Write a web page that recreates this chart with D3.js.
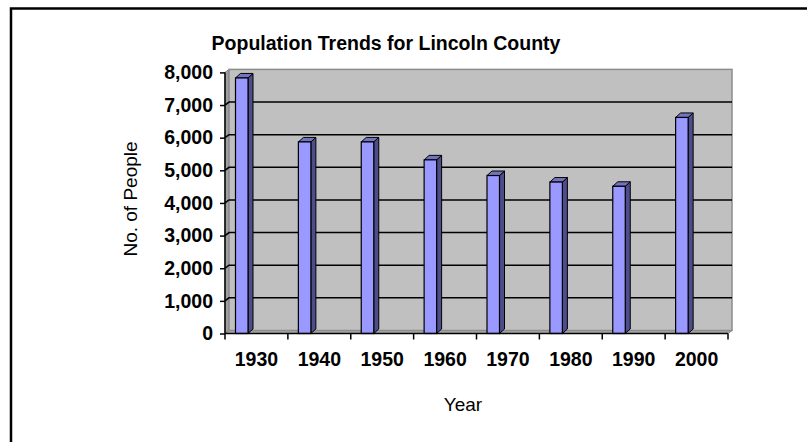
<!DOCTYPE html>
<html>
<head>
<meta charset="utf-8">
<script src="https://cdn.jsdelivr.net/npm/d3@7"></script>
<style>
  html, body { margin: 0; padding: 0; background: #fff; }
  svg { display: block; font-family: "Liberation Sans", Arial, sans-serif; }
</style>
</head>
<body>
<svg id="chart" width="807" height="442"></svg>
<script>
// Population of Lincoln County by census year
const years = ["1930", "1940", "1950", "1960", "1970", "1980", "1990", "2000"];
const population = [7830, 5870, 5870, 5320, 4840, 4640, 4510, 6620];
const yTicks = [0, 1000, 2000, 3000, 4000, 5000, 6000, 7000, 8000];

const title = "Population Trends for Lincoln County";
const xTitle = "Year";
const yTitle = "No. of People";

const svg = d3.select("#chart");

// Front plane of the plot area
const plotLeft = 225, plotRight = 728, plotTop = 72.4, plotBottom = 333.5;
// Depth offsets for the back wall and for the columns
const wallDx = 4, wallDy = -3;
const barDx = 5, barDy = -4.5;

const x = d3.scaleBand().domain(years).range([plotLeft, plotRight]).paddingInner(0).paddingOuter(0);
const y = d3.scaleLinear().domain([0, 8000]).range([plotBottom, plotTop]);

// Outer frame
svg.append("rect")
  .attr("x", 11).attr("y", 8.5)
  .attr("width", 830).attr("height", 460)
  .attr("fill", "none").attr("stroke", "#000").attr("stroke-width", 2.5);

// Title
svg.append("text")
  .attr("x", 386).attr("y", 50)
  .attr("text-anchor", "middle")
  .attr("font-size", 19.5).attr("font-weight", "bold")
  .text(title);

// Left side wall
svg.append("polygon")
  .attr("points", [[plotLeft, y(8000)], [plotLeft + wallDx, y(8000) + wallDy], [plotLeft + wallDx, plotBottom + wallDy], [plotLeft, plotBottom]].join(" "))
  .attr("fill", "#a0a0a0").attr("stroke", "#808080").attr("stroke-width", 1);

// Floor
svg.append("polygon")
  .attr("points", [[plotLeft, plotBottom], [plotLeft + wallDx, plotBottom + wallDy], [plotRight + wallDx, plotBottom + wallDy], [plotRight, plotBottom]].join(" "))
  .attr("fill", "#a8a8a8").attr("stroke", "#808080").attr("stroke-width", 1);

// Back wall
svg.append("rect")
  .attr("x", plotLeft + wallDx).attr("y", y(8000) + wallDy)
  .attr("width", plotRight - plotLeft).attr("height", plotBottom - y(8000))
  .attr("fill", "#c0c0c0").attr("stroke", "#8c8c8c").attr("stroke-width", 1.5);

// Gridlines on the back wall, continuing across the side wall
const grid = svg.append("g").attr("stroke", "#000").attr("stroke-width", 1.5).attr("fill", "none");
yTicks.filter(v => v > 0 && v < 8000).forEach(v => {
  grid.append("polyline")
    .attr("points", [[plotLeft, y(v)], [plotLeft + wallDx, y(v) + wallDy], [plotRight + wallDx, y(v) + wallDy]].join(" "));
});

// Columns
const barOffset = 10.5, barWidth = 12.5;
const bars = svg.append("g").selectAll("g").data(years).join("g");
bars.each(function(yr, i) {
  const g = d3.select(this);
  const x0 = x(yr) + barOffset, x1 = x0 + barWidth;
  const yt = y(population[i]), yb = y(0);
  // side face
  g.append("polygon")
    .attr("points", [[x1, yt], [x1 + barDx, yt + barDy], [x1 + barDx, yb + barDy], [x1, yb]].join(" "))
    .attr("fill", "#4d4d8c").attr("stroke", "#000").attr("stroke-width", 1).attr("stroke-linejoin", "round");
  // top face
  g.append("polygon")
    .attr("points", [[x0, yt], [x0 + barDx, yt + barDy], [x1 + barDx, yt + barDy], [x1, yt]].join(" "))
    .attr("fill", "#7373bf").attr("stroke", "#000").attr("stroke-width", 1).attr("stroke-linejoin", "round");
  // front face
  g.append("rect")
    .attr("x", x0).attr("y", yt).attr("width", barWidth).attr("height", yb - yt)
    .attr("fill", "#9999ff").attr("stroke", "#000").attr("stroke-width", 1.2);
});

// Value axis
const yAxis = svg.append("g")
  .attr("transform", `translate(${plotLeft},0)`)
  .call(d3.axisLeft(y).tickValues(yTicks).tickFormat(d3.format(",")).tickSize(5).tickPadding(7));
yAxis.select(".domain").attr("stroke-width", 1.5).attr("d", `M-0,${plotTop}V${plotBottom}`);
yAxis.selectAll(".tick line").attr("stroke-width", 1.5);
yAxis.selectAll(".tick text")
  .attr("font-size", 19.5).attr("font-weight", "bold").attr("fill", "#000")
  .attr("font-family", "Liberation Sans, Arial, sans-serif");

// Category axis: labels centered, tick marks at band boundaries
const xAxis = svg.append("g")
  .attr("transform", `translate(0,${plotBottom})`)
  .call(d3.axisBottom(x).tickSize(0).tickPadding(19));
xAxis.select(".domain").attr("stroke-width", 1.5).attr("d", `M${plotLeft},0H${plotRight}`);
xAxis.selectAll(".tick text")
  .attr("font-size", 19.5).attr("font-weight", "bold").attr("fill", "#000")
  .attr("font-family", "Liberation Sans, Arial, sans-serif");
const edges = years.map(d => x(d)).concat([plotRight]);
xAxis.append("g").selectAll("line").data(edges).join("line")
  .attr("x1", d => d).attr("x2", d => d)
  .attr("y1", 0).attr("y2", 6)
  .attr("stroke", "#000").attr("stroke-width", 1.5);

// Axis titles
svg.append("text")
  .attr("x", 463).attr("y", 411)
  .attr("text-anchor", "middle").attr("font-size", 19)
  .text(xTitle);

svg.append("text")
  .attr("transform", "translate(137,199) rotate(-90)")
  .attr("text-anchor", "middle").attr("font-size", 19)
  .text(yTitle);
</script>
</body>
</html>
